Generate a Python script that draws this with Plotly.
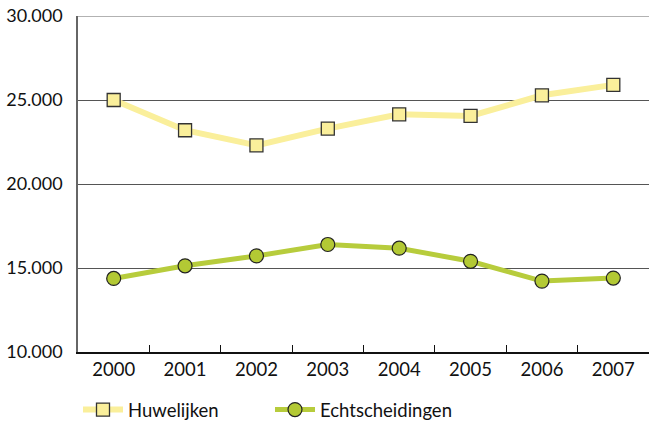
import plotly.graph_objects as go

# jaren en aantallen
jaren = ["2000", "2001", "2002", "2003", "2004", "2005", "2006", "2007"]
huwelijken = [25000, 23200, 22300, 23300, 24150, 24050, 25280, 25900]
echtscheidingen = [14380, 15130, 15720, 16400, 16180, 15400, 14220, 14400]

y_ticks = [10000, 15000, 20000, 25000, 30000]

fig = go.Figure()

fig.add_trace(go.Scatter(
    x=jaren,
    y=huwelijken,
    name="Huwelijken",
    mode="lines+markers",
    line=dict(color="#faef9b", width=6),
    marker=dict(symbol="square", size=13, color="#faef9b",
                line=dict(color="#333333", width=1.3)),
))

fig.add_trace(go.Scatter(
    x=jaren,
    y=echtscheidingen,
    name="Echtscheidingen",
    mode="lines+markers",
    line=dict(color="#b7cc3c", width=5),
    marker=dict(symbol="circle", size=14, color="#b3c934",
                line=dict(color="#222222", width=1.2)),
))

# bovenste rasterlijn (30.000) valt samen met de rand van het plotvlak
fig.add_shape(type="line", xref="paper", x0=0, x1=1, yref="y", y0=y_ticks[-1], y1=y_ticks[-1],
              line=dict(color="#666666", width=1.2), layer="below")

fig.update_layout(
    width=649,
    height=421,
    margin=dict(l=78, r=0, t=16, b=69, autoexpand=False),
    plot_bgcolor="white",
    paper_bgcolor="white",
    separators=",.",
    font=dict(family="Lato, Open Sans, sans-serif", size=18, color="#111111"),
    xaxis=dict(
        type="category",
        range=[-0.5, 7.5],
        showline=True,
        linecolor="#111111",
        linewidth=1.5,
        ticks="inside",
        tickson="boundaries",
        ticklen=7,
        tickcolor="#111111",
        showgrid=False,
        automargin=False,
        tickfont=dict(size=18.5),
    ),
    yaxis=dict(
        range=[10000, 30000],
        tickvals=y_ticks,
        tickformat=",d",
        showline=True,
        linecolor="#666666",
        linewidth=1.5,
        showgrid=True,
        gridcolor="#555555",
        gridwidth=1,
        zeroline=False,
        ticks="",
        ticklabelstandoff=10,
        automargin=False,
        tickfont=dict(size=18),
    ),
    legend=dict(
        orientation="h",
        x=0,
        xanchor="left",
        yref="container",
        y=0.026,
        yanchor="middle",
        font=dict(size=18.5),
        entrywidth=137,
        entrywidthmode="pixels",
        itemwidth=40,
    ),
)

# pagina zonder witrand, zodat de figuur precies in het venster past
fig.write_html("out.html",
               config={"displayModeBar": False},
               post_script="document.body.style.margin='0';document.body.style.overflow='hidden';")
